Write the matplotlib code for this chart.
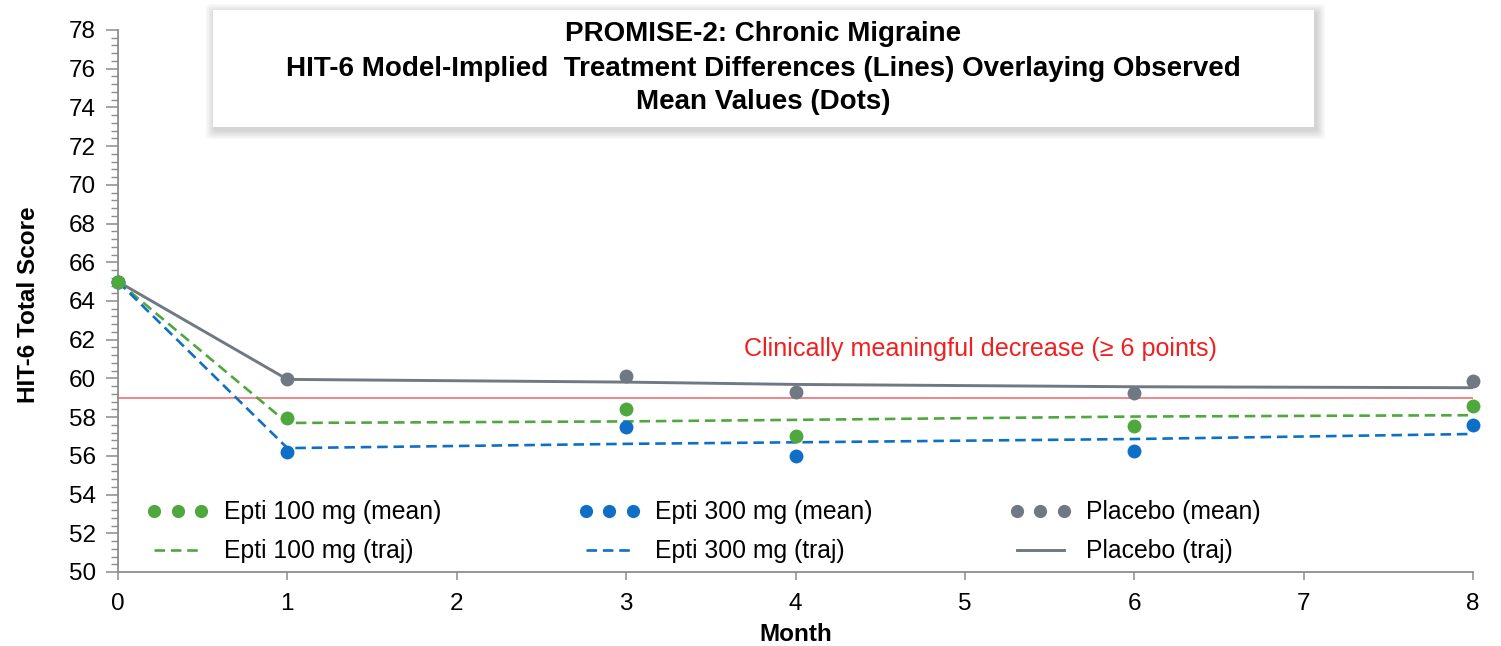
import matplotlib
matplotlib.use("Agg")
import matplotlib.pyplot as plt
from matplotlib.ticker import MultipleLocator
from matplotlib.patches import FancyBboxPatch

plt.rcParams['font.family'] = ['Liberation Sans', 'DejaVu Sans']

# ---- data ----
months = [0, 1, 3, 4, 6, 8]
epti100_mean = [65.0, 57.93, 58.41, 57.0, 57.55, 58.55]
epti300_mean = [65.0, 56.2, 57.47, 55.98, 56.26, 57.59]
placebo_mean = [65.0, 59.95, 60.12, 59.3, 59.23, 59.86]
epti100_traj = [65.0, 57.7, 57.78, 57.86, 58.03, 58.1]
epti300_traj = [65.0, 56.4, 56.62, 56.7, 56.87, 57.13]
placebo_traj = [65.0, 59.95, 59.81, 59.69, 59.57, 59.52]
threshold = 59.0
x_ticks = [0, 1, 2, 3, 4, 5, 6, 7, 8]
y_ticks = list(range(50, 79, 2))

title_lines = ["PROMISE-2: Chronic Migraine",
               "HIT-6 Model-Implied  Treatment Differences (Lines) Overlaying Observed",
               "Mean Values (Dots)"]
threshold_label = "Clinically meaningful decrease (\u2265 6 points)"

GREEN = "#4EA83E"
BLUE = "#0F6FC6"
GRAY = "#6F7883"
RED_LINE = "#F07C80"
AXIS = "#8C8C8C"

FS = 17.5

W, H = 1501, 646
fig = plt.figure(figsize=(W / 100, H / 100), dpi=100)
ax = fig.add_axes([118 / W, 1 - 572 / H, (1473 - 118) / W, (572 - 30) / H])

ax.axhline(threshold, color=RED_LINE, lw=1.3, zorder=2)

ls_dash = (0, (4, 2.2))
ax.plot(months, placebo_traj, color=GRAY, lw=2.1, zorder=3, label="Placebo (traj)")
ax.plot(months, epti100_traj, color=GREEN, lw=1.9, ls=ls_dash, zorder=3, label="Epti 100 mg (traj)")
ax.plot(months, epti300_traj, color=BLUE, lw=1.9, ls=ls_dash, zorder=3, label="Epti 300 mg (traj)")

ms = 10
ax.plot(months, epti300_mean, 'o', color=BLUE, ms=ms, mec='none', zorder=4, clip_on=False, label="Epti 300 mg (mean)")
ax.plot(months, placebo_mean, 'o', color=GRAY, ms=ms, mec='none', zorder=4, clip_on=False, label="Placebo (mean)")
ax.plot(months, epti100_mean, 'o', color=GREEN, ms=ms, mec='none', zorder=5, clip_on=False, label="Epti 100 mg (mean)")

ax.set_xlim(0, 8)
ax.set_ylim(50, 78)
ax.set_xticks(x_ticks)
ax.set_yticks(y_ticks)
ax.yaxis.set_minor_locator(MultipleLocator(0.4))

for s in ['top', 'right']:
    ax.spines[s].set_visible(False)
for s in ['left', 'bottom']:
    ax.spines[s].set_color(AXIS)
    ax.spines[s].set_linewidth(1.3)
ax.tick_params(axis='y', which='major', length=9, width=1.1, color=AXIS, labelsize=FS, pad=7)
ax.tick_params(axis='y', which='minor', length=5, width=1.0, color=AXIS)
ax.tick_params(axis='x', which='major', length=6, width=1.1, color=AXIS, labelsize=FS, pad=9)

ax.set_ylabel("HIT-6 Total Score", fontsize=FS, fontweight='bold')
ax.yaxis.set_label_coords(-0.0576, 0.4926)
ax.set_xlabel("Month", fontsize=FS, fontweight='bold')
ax.xaxis.set_label_coords(0.5, -0.094)

ax.text(5.09, 61.5, threshold_label, color="#F02020", fontsize=18.1, ha='center', va='center')

# legend
handles, labels = ax.get_legend_handles_labels()
order = ["Epti 100 mg (mean)", "Epti 100 mg (traj)", "Epti 300 mg (mean)",
         "Epti 300 mg (traj)", "Placebo (mean)", "Placebo (traj)"]
hmap = dict(zip(labels, handles))
leg = ax.legend([hmap[l] for l in order], order, ncol=3, loc='lower left',
                bbox_to_anchor=(0.0214, 0.016), frameon=False, fontsize=17.8,
                numpoints=3, handlelength=2.5, handletextpad=0.6,
                columnspacing=5.55, labelspacing=0.6, markerscale=0.95,
                borderpad=0, borderaxespad=0)

# title box with soft shadow
bx0, by0 = 213 / W, 1 - 127 / H
bw, bh = (1314 - 213) / W, (127 - 10) / H
for i in range(6):
    d = (i + 1) * 1.5
    sh = FancyBboxPatch((bx0 - d / W + 2 / W, by0 - d / H - 3 / H), bw + 2 * d / W, bh + 2 * d / H,
                        boxstyle="round,pad=0,rounding_size=0.004", transform=fig.transFigure,
                        facecolor='black', edgecolor='none', alpha=0.028, zorder=0)
    fig.patches.append(sh)
box = FancyBboxPatch((bx0, by0), bw, bh, boxstyle="square,pad=0",
                     transform=fig.transFigure, facecolor='white', edgecolor='none',
                     zorder=1)
fig.patches.append(box)
ys = [34, 69, 102]
for t, y in zip(title_lines, ys):
    fig.text(763 / W, 1 - y / H, t, ha='center', va='center', fontsize=20,
             fontweight='bold', zorder=3)

fig.savefig("out.png", dpi=100)
